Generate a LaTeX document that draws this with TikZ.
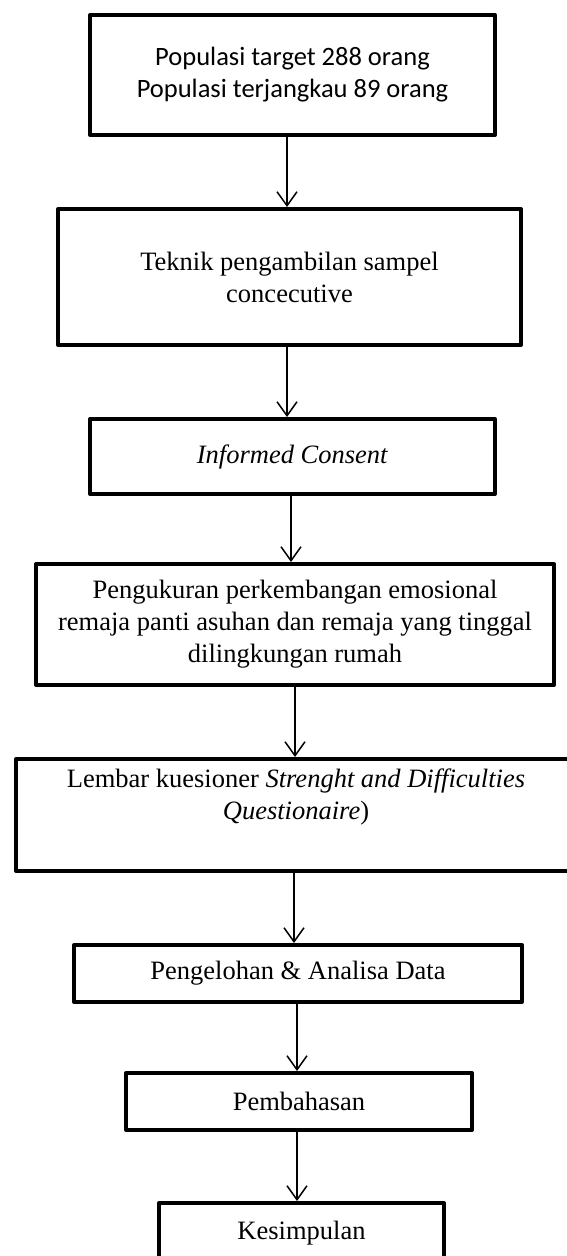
\documentclass[tikz,border=0pt]{standalone}
\usepackage{fontspec}
\setmainfont{Liberation Serif}
\newfontfamily\calibri{Carlito}
\usepackage{tikz}
\usetikzlibrary{arrows.meta}

\begin{document}
\begin{tikzpicture}[x=1pt, y=-1pt,
    box/.style={draw, line width=4pt, line join=round, inner sep=0pt, align=center,
                font=\fontsize{26.5}{32}\selectfont},
    arr/.style={line width=1.5pt, -{Straight Barb[length=14pt, width=20pt]}}]
\useasboundingbox (0,0) rectangle (566,1256);
% Nodes
\node[box, minimum width=405pt, minimum height=120pt, font=\calibri\fontsize{26.5}{32}\selectfont] (b1) at (292.5,75)
    {Populasi target 288 orang\\Populasi terjangkau 89 orang};
\node[box, minimum width=463pt, minimum height=136pt] (b2) at (289.5,277)
    {Teknik pengambilan sampel\\concecutive};
\node[box, minimum width=405pt, minimum height=75pt] (b3) at (292.5,456.5)
    {\textit{Informed Consent}};
\node[box, minimum width=518pt, minimum height=121pt] (b4) at (295,624.5)
    {Pengukuran perkembangan emosional\\remaja panti asuhan dan remaja yang tinggal\\dilingkungan rumah};
\node[box, minimum width=560pt, minimum height=112pt] (b5) at (296,815)
    {Lembar kuesioner \textit{Strenght and Difficulties}\\\textit{Questionaire})\\\strut};
\node[box, minimum width=448pt, minimum height=57pt] (b6) at (298,973.5)
    {Pengelohan \& Analisa Data};
\node[box, minimum width=346pt, minimum height=57pt] (b7) at (299,1101.5)
    {Pembahasan};
\node[box, minimum width=285pt, minimum height=60pt] (b8) at (301.5,1233)
    {Kesimpulan};
% Edges
\draw[arr] ([xshift=-5.5pt]b1.south) -- ([xshift=-5.5pt]b1.south |- b2.north);
\draw[arr] ([xshift=-2.5pt]b2.south) -- ([xshift=-2.5pt]b2.south |- b3.north);
\draw[arr] ([xshift=-1.5pt]b3.south) -- ([xshift=-1.5pt]b3.south |- b4.north);
\draw[arr] (b4.south) -- (b4.south |- b5.north);
\draw[arr] ([xshift=-2pt]b5.south) -- ([xshift=-2pt]b5.south |- b6.north);
\draw[arr] ([xshift=-1pt]b6.south) -- ([xshift=-1pt]b6.south |- b7.north);
\draw[arr] ([xshift=-2pt]b7.south) -- ([xshift=-2pt]b7.south |- b8.north);
\end{tikzpicture}
\end{document}
